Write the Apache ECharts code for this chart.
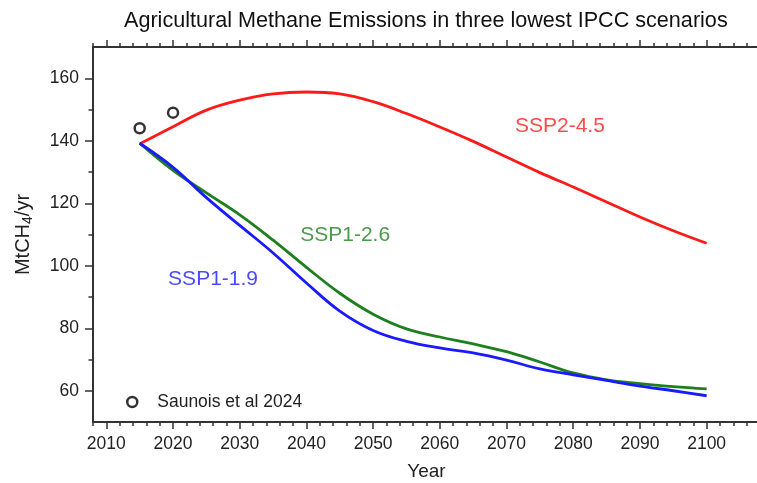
<!DOCTYPE html>
<html>
<head>
<meta charset="utf-8">
<script src="https://cdn.jsdelivr.net/npm/echarts@6/dist/echarts.min.js"></script>
<style>
  html, body { margin: 0; padding: 0; background: #fff; }
  #chart { width: 757px; height: 483px; }
</style>
</head>
<body>
<div id="chart"></div>
<script>
// values (MtCH4/yr)
const years = [2015, 2020, 2025, 2030, 2035, 2040, 2045, 2050, 2055, 2060,
  2065, 2070, 2075, 2080, 2085, 2090, 2095, 2100];
const ssp245 = [139, 144.5, 149.8, 153, 155, 155.6, 155, 152.5, 148.7, 144.4,
  139.8, 134.8, 129.8, 125.2, 120.4, 115.6, 111.2, 107.2];
const ssp126 = [139.2, 130.5, 123.3, 116.3, 108.2, 99.5, 91.2, 84.5, 79.8, 77.2,
  75, 72.5, 69.2, 65.7, 63.5, 62.3, 61.3, 60.6];
const ssp119 = [139.2, 131.5, 121.8, 112.9, 104.1, 94.5, 85.5, 79.3, 75.8, 73.7,
  72.1, 69.8, 67.0, 65.1, 63.3, 61.5, 60.0, 58.4];
const saunoisYears = [2015, 2020];
const saunoisValues = [144, 149];

const xMajor = [2010, 2020, 2030, 2040, 2050, 2060, 2070, 2080, 2090, 2100];
const xMinor = [];
for (let y = 2008; y <= 2108; y += 2) if (y % 10 !== 0) xMinor.push(y);
const yMajor = [60, 80, 100, 120, 140, 160];
const yMinor = [70, 90, 110, 130, 150];

const FONT = 'Liberation Sans, Arial, sans-serif';
const AXIS_COLOR = '#333';

const pairs = (xs, vs) => xs.map((x, i) => [x, vs[i]]);

const xBase = (position, ticks, len, withLabels, withLine) => ({
  type: 'value',
  position,
  min: 2008,
  max: 2108,
  interval: 2,
  splitLine: { show: false },
  axisLine: { show: withLine, lineStyle: { color: AXIS_COLOR, width: 2 } },
  axisTick: {
    show: true, length: len, customValues: ticks,
    lineStyle: { color: AXIS_COLOR, width: 1.5 },
  },
  axisLabel: withLabels ? {
    show: true, customValues: xMajor, margin: 13,
    formatter: (v) => String(v),
    color: '#222', fontSize: 17.5, fontFamily: FONT,
  } : { show: false },
});

const yBase = (ticks, len, withLabels) => ({
  type: 'value',
  position: 'left',
  min: 50,
  max: 170,
  interval: 10,
  splitLine: { show: false },
  axisLine: { show: withLabels, lineStyle: { color: AXIS_COLOR, width: 2 } },
  axisTick: {
    show: true, length: len, customValues: ticks,
    lineStyle: { color: AXIS_COLOR, width: 1.5 },
  },
  axisLabel: withLabels ? {
    show: true, customValues: yMajor, margin: 14,
    color: '#222', fontSize: 17.5, fontFamily: FONT,
  } : { show: false },
});

const xAxes = [
  {
    ...xBase('bottom', xMajor, 7, true, true),
    name: 'Year',
    nameLocation: 'middle',
    nameGap: 40,
    nameTextStyle: { color: '#222', fontSize: 19, fontFamily: FONT },
  },
  xBase('bottom', xMinor, 4, false, false),
  xBase('top', xMajor, 7, false, true),
  xBase('top', xMinor, 4, false, false),
];

const yAxes = [
  {
    ...yBase(yMajor, 8, true),
    name: '{n|MtCH}{s|4}{n|/yr}',
    nameLocation: 'middle',
    nameRotate: 90,
    nameGap: 58,
    nameTextStyle: {
      rich: {
        n: { fontSize: 20, fontFamily: FONT, color: '#222' },
        s: { fontSize: 14, fontFamily: FONT, color: '#222', padding: [10, 0, 0, 0] },
      },
    },
  },
  yBase(yMinor, 4.5, false),
];

const lineSeries = (name, data, color) => ({
  name,
  type: 'line',
  data: pairs(years, data),
  smooth: 0.4,
  showSymbol: false,
  lineStyle: { color, width: 2.8 },
  z: 3,
});

const textLabel = (text, x, y, color) => ({
  type: 'scatter',
  data: [[x, y]],
  symbolSize: 0,
  silent: true,
  label: {
    show: true, position: 'inside', formatter: text,
    color, fontSize: 21, fontFamily: FONT,
  },
});

const chart = echarts.init(document.getElementById('chart'), null, { renderer: 'canvas' });
chart.setOption({
  backgroundColor: '#fff',
  animation: false,
  title: {
    text: 'Agricultural Methane Emissions in three lowest IPCC scenarios',
    left: 119,
    top: 5,
    textStyle: { color: '#111', fontSize: 21.6, fontWeight: 'normal', fontFamily: FONT },
  },
  legend: {
    data: ['Saunois et al 2024'],
    left: 121,
    top: 388,
    itemWidth: 40,
    itemHeight: 10,
    icon: 'circle',
    itemStyle: { color: '#fff', borderColor: '#000', borderWidth: 2.5 },
    textStyle: { color: '#222', fontSize: 17.5, fontFamily: FONT },
  },
  grid: {
    left: 93, top: 47, right: -3, bottom: 61,
    containLabel: false, outerBoundsMode: 'none',
  },
  xAxis: xAxes,
  yAxis: yAxes,
  series: [
    lineSeries('SSP2-4.5', ssp245, '#ff1a1a'),
    lineSeries('SSP1-2.6', ssp126, '#1e7f1e'),
    lineSeries('SSP1-1.9', ssp119, '#1a1aff'),
    {
      name: 'Saunois et al 2024',
      type: 'scatter',
      data: pairs(saunoisYears, saunoisValues),
      symbol: 'circle',
      symbolSize: 10,
      itemStyle: { color: '#fff', borderColor: '#000', borderWidth: 2.5 },
      z: 4,
    },
    textLabel('SSP2-4.5', 2078, 144.6, '#ff1a1a'),
    textLabel('SSP1-2.6', 2045.8, 109.7, '#1e7f1e'),
    textLabel('SSP1-1.9', 2026, 95.6, '#1a1aff'),
  ],
});
</script>
</body>
</html>
